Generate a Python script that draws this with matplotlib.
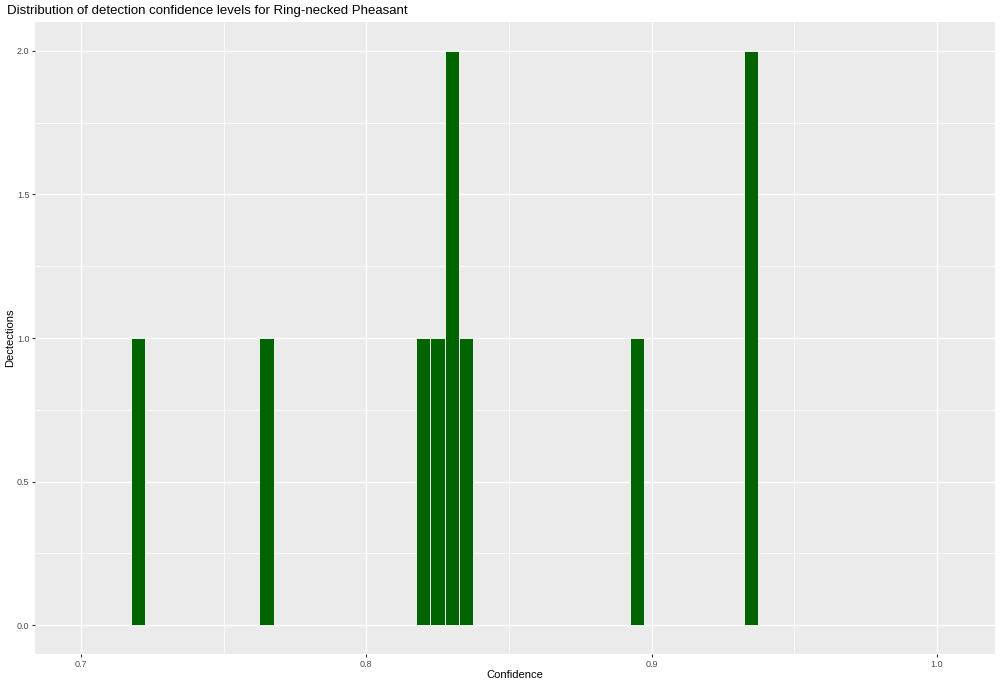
import matplotlib
matplotlib.use("Agg")
import matplotlib.pyplot as plt
from matplotlib.ticker import MultipleLocator

# Data: histogram bins (binwidth 0.005) and detection counts
bin_centers = [0.720, 0.765, 0.820, 0.825, 0.830, 0.835, 0.895, 0.935]
counts = [1, 1, 1, 1, 2, 1, 1, 2]
bin_width = 0.005
x_ticks = [0.7, 0.8, 0.9, 1.0]
x_tick_labels = ["0.7", "0.8", "0.9", "1.0"]
y_ticks = [0.0, 0.5, 1.0, 1.5, 2.0]
y_tick_labels = ["0.0", "0.5", "1.0", "1.5", "2.0"]

title = "Distribution of detection confidence levels for Ring-necked Pheasant"
xlabel = "Confidence"
ylabel = "Dectections"

plt.rcParams['font.family'] = ['Liberation Sans', 'DejaVu Sans']

W, H = 1000, 685
fig = plt.figure(figsize=(W / 100, H / 100), dpi=100)
left, right, top, bottom = 35, 995, 22, 654
ax = fig.add_axes([left / W, 1 - bottom / H, (right - left) / W, (bottom - top) / H])
ax.set_facecolor("#EBEBEB")

ax.bar(bin_centers, counts, width=bin_width, color="#006400",
       edgecolor="white", linewidth=0.6, zorder=3)

ax.set_xlim(0.6839, 1.0204)
ax.set_ylim(-0.1, 2.1)

ax.set_xticks(x_ticks)
ax.set_xticklabels(x_tick_labels)
ax.set_yticks(y_ticks)
ax.set_yticklabels(y_tick_labels)
ax.xaxis.set_minor_locator(MultipleLocator(0.05))
ax.yaxis.set_minor_locator(MultipleLocator(0.25))

ax.grid(which="major", color="white", linewidth=1.0, zorder=0)
ax.grid(which="minor", color="white", linewidth=0.5, zorder=0)
ax.set_axisbelow(True)
for s in ax.spines.values():
    s.set_visible(False)

ax.tick_params(which="major", length=2.5, width=0.8, color="#333333",
               labelsize=6.5, labelcolor="#4D4D4D", pad=1.5)
ax.tick_params(which="minor", length=0)

ax.set_xlabel(xlabel, fontsize=8, color="black", labelpad=1)
ax.set_ylabel(ylabel, fontsize=8, color="black", labelpad=1)

fig.text(7 / W, 1 - 11 / H, title, fontsize=9.5, color="black",
         ha="left", va="center")

fig.savefig("out.png", dpi=100, facecolor="white")
